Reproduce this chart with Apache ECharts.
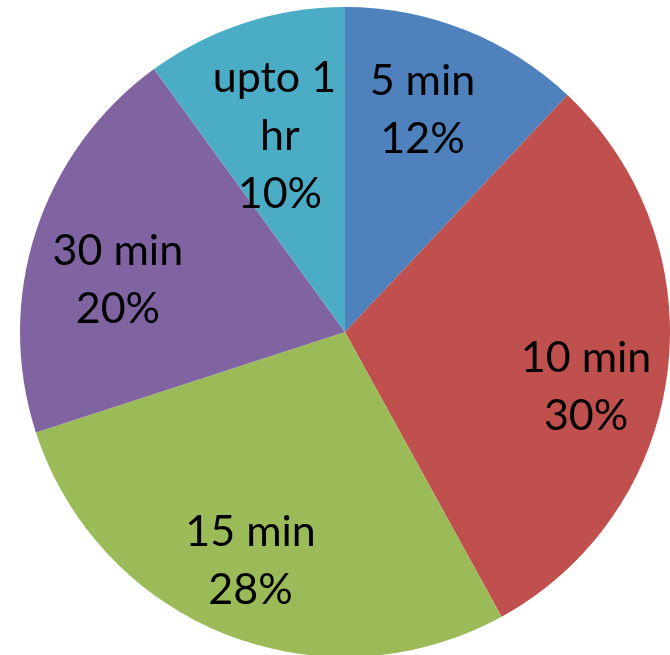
<!DOCTYPE html>
<html>
<head>
<meta charset="utf-8">
<script src="https://cdn.jsdelivr.net/npm/echarts@6/dist/echarts.min.js"></script>
<style>html,body{margin:0;padding:0;background:#fff}#c{width:670px;height:655px}</style>
</head>
<body>
<div id="c"></div>
<script>
var categories = ['5 min', '10 min', '15 min', '30 min', 'upto 1 hr'];
var values = [12, 30, 28, 20, 10];
var colors = ['#4F81BD', '#C0504D', '#9BBB59', '#8064A2', '#4BACC6'];
// small label nudges (style only), per slice order
var labelNudge = [[-12, 4], [0, 25], [-5, 3], [4, 23], [10, 35]];

var chart = echarts.init(document.getElementById('c'));
var sliceData = categories.map(function (n, i) {
  return { name: n, value: values[i], itemStyle: { color: colors[i] } };
});
var labelData = categories.map(function (n, i) {
  var d = { name: n, value: values[i] };
  if (n === 'upto 1 hr') d.label = { width: 135, overflow: 'break' };
  return d;
});
chart.setOption({
  animation: false,
  series: [
    {
      type: 'pie',
      center: [345, 332],
      radius: [0, 325],
      startAngle: 90,
      clockwise: true,
      silent: true,
      label: { show: false },
      labelLine: { show: false },
      itemStyle: { borderWidth: 0 },
      data: sliceData
    },
    {
      type: 'pie',
      center: [345, 332],
      radius: [155, 325],
      startAngle: 90,
      clockwise: true,
      silent: true,
      itemStyle: { color: 'rgba(0,0,0,0)', borderWidth: 0 },
      labelLine: { show: false },
      labelLayout: function (p) {
        var n = labelNudge[p.dataIndex];
        return { dx: n[0], dy: n[1] };
      },
      label: {
        show: true,
        position: 'inside',
        formatter: function (p) { return p.name + '\n' + p.value + '%'; },
        fontFamily: 'Lato',
        fontSize: 43,
        lineHeight: 58,
        color: '#000',
        align: 'center'
      },
      data: labelData
    }
  ]
});
</script>
</body>
</html>
